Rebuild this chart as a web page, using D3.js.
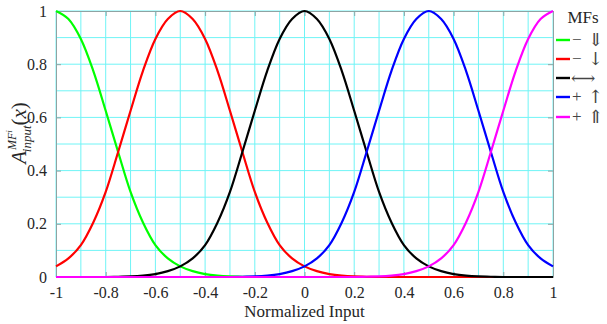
<!DOCTYPE html>
<html>
<head>
<meta charset="utf-8">
<script src="https://cdn.jsdelivr.net/npm/d3@7"></script>
<style>
  body { margin: 0; background: #fff; }
  text { font-family: "Liberation Serif", "DejaVu Serif", serif; fill: #262626; }
</style>
</head>
<body>
<div id="chart"></div>
<script>
// Sample positions on the normalized input axis
var xs = d3.range(41).map(function(i) { return -1 + i * 0.05; });

// Membership values at each sample position
var mfNegBig = [1, 0.97, 0.895, 0.775, 0.625, 0.47, 0.32, 0.205, 0.12, 0.07, 0.04, 0.022, 0.011, 0.005, 0.002, 0.001, 0, 0, 0, 0, 0, 0, 0, 0, 0, 0, 0, 0, 0, 0, 0, 0, 0, 0, 0, 0, 0, 0, 0, 0, 0];
var mfNeg = [0.04, 0.07, 0.12, 0.205, 0.32, 0.47, 0.625, 0.775, 0.895, 0.97, 1, 0.97, 0.895, 0.775, 0.625, 0.47, 0.32, 0.205, 0.12, 0.07, 0.04, 0.022, 0.011, 0.005, 0.002, 0.001, 0, 0, 0, 0, 0, 0, 0, 0, 0, 0, 0, 0, 0, 0, 0];
var mfZero = [0, 0, 0, 0, 0, 0.001, 0.002, 0.005, 0.011, 0.022, 0.04, 0.07, 0.12, 0.205, 0.32, 0.47, 0.625, 0.775, 0.895, 0.97, 1, 0.97, 0.895, 0.775, 0.625, 0.47, 0.32, 0.205, 0.12, 0.07, 0.04, 0.022, 0.011, 0.005, 0.002, 0.001, 0, 0, 0, 0, 0];
var mfPos = [0, 0, 0, 0, 0, 0, 0, 0, 0, 0, 0, 0, 0, 0, 0, 0.001, 0.002, 0.005, 0.011, 0.022, 0.04, 0.07, 0.12, 0.205, 0.32, 0.47, 0.625, 0.775, 0.895, 0.97, 1, 0.97, 0.895, 0.775, 0.625, 0.47, 0.32, 0.205, 0.12, 0.07, 0.04];
var mfPosBig = [0, 0, 0, 0, 0, 0, 0, 0, 0, 0, 0, 0, 0, 0, 0, 0, 0, 0, 0, 0, 0, 0, 0, 0, 0, 0.001, 0.002, 0.005, 0.011, 0.022, 0.04, 0.07, 0.12, 0.205, 0.32, 0.47, 0.625, 0.775, 0.895, 0.97, 1];

var seriesSigns = ["\u2212", "\u2212", "", "+", "+"];
var seriesArrows = ["\u21d3", "\u2193", "\u27f7", "\u2191", "\u21d1"];
var seriesColors = ["#00ff00", "#ff0000", "#000000", "#0000ff", "#ff00ff"];
var seriesValues = [mfNegBig, mfNeg, mfZero, mfPos, mfPosBig];

var xTicks = [-1, -0.8, -0.6, -0.4, -0.2, 0, 0.2, 0.4, 0.6, 0.8, 1];
var yTicks = [0, 0.2, 0.4, 0.6, 0.8, 1];
var gridX = d3.range(21).map(function(i) { return -1 + i * 0.1; });
var gridY = d3.range(11).map(function(i) { return i * 0.1; });

var width = 607, height = 324;
var margins = { top: 11, right: 54, bottom: 47, left: 56 };
var chartWidth = width - margins.left - margins.right;
var chartHeight = height - margins.top - margins.bottom;

var svg = d3.select("#chart")
  .append("svg")
  .attr("width", width)
  .attr("height", height);

var chartElement = svg.append("g")
  .attr("transform", "translate(" + margins.left + "," + margins.top + ")");

var xScale = d3.scaleLinear().domain([-1, 1]).range([0, chartWidth]);
var yScale = d3.scaleLinear().domain([0, 1]).range([chartHeight, 0]);

// Cyan grid
var grid = chartElement.append("g").attr("class", "grid");

grid.selectAll("line.gx")
  .data(gridX)
  .enter()
  .append("line")
  .attr("class", "gx")
  .attr("x1", function(d) { return xScale(d); })
  .attr("x2", function(d) { return xScale(d); })
  .attr("y1", 0)
  .attr("y2", chartHeight)
  .attr("stroke", "#70f4f6")
  .attr("stroke-width", 1);

grid.selectAll("line.gy")
  .data(gridY)
  .enter()
  .append("line")
  .attr("class", "gy")
  .attr("x1", 0)
  .attr("x2", chartWidth)
  .attr("y1", function(d) { return yScale(d); })
  .attr("y2", function(d) { return yScale(d); })
  .attr("stroke", "#70f4f6")
  .attr("stroke-width", 1);

// Axes with inward ticks on all four sides
var axisColor = "#8fa3a3";
var fmt = function(d) { return String(+d.toFixed(1)); };
var xAxisBottom = d3.axisBottom(xScale).tickValues(xTicks).tickSizeInner(-5).tickSizeOuter(0)
  .tickPadding(10).tickFormat(fmt);
var xAxisTop = d3.axisTop(xScale).tickValues(xTicks).tickSizeInner(-5).tickSizeOuter(0).tickFormat("");
var yAxisLeft = d3.axisLeft(yScale).tickValues(yTicks).tickSizeInner(-5).tickSizeOuter(0)
  .tickPadding(9).tickFormat(fmt);
var yAxisRight = d3.axisRight(yScale).tickValues(yTicks).tickSizeInner(-5).tickSizeOuter(0).tickFormat("");

function styleAxis(g) {
  g.attr("font-family", null);
  g.select(".domain").attr("stroke", axisColor);
  g.selectAll(".tick line").attr("stroke", axisColor);
  g.selectAll(".tick text")
    .style("font-size", "16px")
    .style("font-family", "'Liberation Serif', serif")
    .attr("fill", "#262626");
}

chartElement.append("g").attr("class", "x axis bottom")
  .attr("transform", "translate(0," + chartHeight + ")").call(xAxisBottom).call(styleAxis);
chartElement.append("g").attr("class", "x axis top").call(xAxisTop).call(styleAxis);
chartElement.append("g").attr("class", "y axis left").call(yAxisLeft).call(styleAxis);
chartElement.append("g").attr("class", "y axis right")
  .attr("transform", "translate(" + chartWidth + ",0)").call(yAxisRight).call(styleAxis);

// Curves
var line = d3.line()
  .x(function(d, i) { return xScale(xs[i]); })
  .y(function(d) { return yScale(d); })
  .curve(d3.curveCatmullRom.alpha(0.5));

chartElement.append("g")
  .attr("class", "lines")
  .selectAll("path")
  .data(seriesValues)
  .enter()
  .append("path")
  .attr("d", function(d) { return line(d); })
  .attr("fill", "none")
  .attr("stroke", function(d, i) { return seriesColors[i]; })
  .attr("stroke-width", 2.2);

// X label
svg.append("text")
  .attr("x", margins.left + chartWidth / 2)
  .attr("y", 317)
  .attr("text-anchor", "middle")
  .attr("font-size", 17)
  .text("Normalized  Input");

// Y label: A_input^{MF^i}(x)
var yLabel = svg.append("text")
  .attr("transform", "translate(26,133) rotate(-90)")
  .attr("text-anchor", "middle")
  .attr("font-size", 21);
yLabel.append("tspan").attr("font-style", "italic").text("A");
yLabel.append("tspan").attr("font-style", "italic").attr("font-size", 12).attr("dx", 1).attr("dy", -10).text("MF");
yLabel.append("tspan").attr("font-style", "italic").attr("font-size", 9).attr("dy", -4).text("i");
yLabel.append("tspan").attr("font-style", "italic").attr("font-size", 13).attr("dx", -22).attr("dy", 19).text("input");
yLabel.append("tspan").attr("dy", -5).text("(");
yLabel.append("tspan").attr("font-style", "italic").text("x");
yLabel.append("tspan").text(")");

// Legend
var legend = svg.append("g").attr("class", "legend");
legend.append("text")
  .attr("x", 583)
  .attr("y", 23)
  .attr("text-anchor", "middle")
  .attr("font-size", 17)
  .text("MFs");

var legendY = [40, 59, 78, 97, 117];
var items = legend.selectAll("g.item")
  .data(seriesArrows)
  .enter()
  .append("g")
  .attr("class", "item")
  .attr("transform", function(d, i) { return "translate(0," + legendY[i] + ")"; });

items.append("line")
  .attr("x1", 556)
  .attr("x2", 570)
  .attr("y1", 0)
  .attr("y2", 0)
  .attr("stroke", function(d, i) { return seriesColors[i]; })
  .attr("stroke-width", 2.4);

items.append("text")
  .attr("x", 572)
  .attr("y", 5)
  .attr("font-size", 17)
  .style("fill", "#444")
  .text(function(d, i) { return seriesSigns[i]; });

items.append("text")
  .attr("x", function(d, i) { return seriesSigns[i] ? 588 : 571; })
  .attr("y", 6)
  .style("font-family", "'DejaVu Serif', serif")
  .style("fill", "#444")
  .attr("font-size", function(d, i) { return i === 2 ? 17 : 18; })
  .text(function(d) { return d; });
</script>
</body>
</html>
